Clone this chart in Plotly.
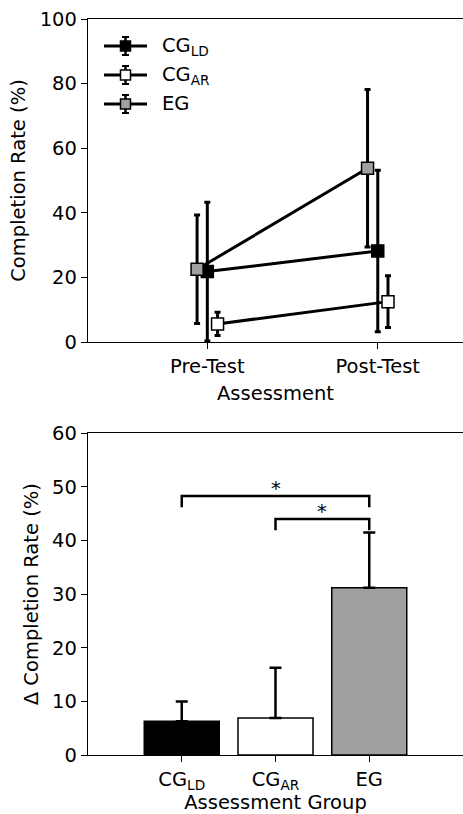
import plotly.graph_objects as go

# ---------------- data ----------------
assessments = ["Pre-Test", "Post-Test"]
groups = ["CG<sub>LD</sub>", "CG<sub>AR</sub>", "EG"]
group_colors = ["black", "white", "#a0a0a0"]
mean_pre = [21.8, 5.6, 22.5]
mean_post = [28.2, 12.5, 53.8]
sd_pre = [21.5, 3.6, 16.8]
sd_post = [25.0, 8.0, 24.4]
delta_mean = [6.3, 6.9, 31.2]
delta_err = [3.7, 9.35, 10.3]
sig_pairs = [(0, 2), (1, 2)]
sig_heights = [48.3, 44.0]
sig_labels = ["*", "*"]

# ---------------- style ----------------
FONT = "DejaVu Sans"
FS = 19.5
W, H = 463, 814
ML, MR, MT, MB = 88, 0, 19, 59
dodge = [0.0, 0.06, -0.06]
bracket_drop = 2.1

fig = go.Figure()

# top panel: line plot with error bars
for i, g in enumerate(groups):
    xs = [k + dodge[i] for k in range(len(assessments))]
    fig.add_trace(go.Scatter(
        x=xs, y=[mean_pre[i], mean_post[i]],
        mode="lines+markers", name=g, showlegend=False,
        line=dict(color="black", width=3),
        marker=dict(symbol="square", size=12, color=group_colors[i],
                    line=dict(color="black", width=1.5)),
        error_y=dict(type="data", array=[sd_pre[i], sd_post[i]],
                     color="black", thickness=3, width=3),
        xaxis="x", yaxis="y", cliponaxis=False,
    ))

# bottom panel: bars
fig.add_trace(go.Bar(
    x=list(range(len(groups))), y=delta_mean, width=0.8,
    marker=dict(color=group_colors, line=dict(color="black", width=1.5)),
    error_y=dict(type="data", symmetric=False, array=delta_err,
                 arrayminus=[0] * len(groups), color="black",
                 thickness=2.5, width=6),
    showlegend=False, xaxis="x2", yaxis="y2",
))

# significance brackets
for (a, b), h, lab in zip(sig_pairs, sig_heights, sig_labels):
    fig.add_trace(go.Scatter(
        x=[a, a, b, b], y=[h - bracket_drop, h, h, h - bracket_drop],
        mode="lines", line=dict(color="black", width=2.5),
        showlegend=False, xaxis="x2", yaxis="y2", hoverinfo="skip",
    ))
    fig.add_annotation(x=(a + b) / 2, y=h, xref="x2", yref="y2", text=lab,
                       showarrow=False, yanchor="bottom", yshift=-6,
                       font=dict(family=FONT, size=FS, color="black"))

# manual legend (paper coordinates)
pw = W - ML - MR
ph = H - MT - MB


def px(x):
    return (x - ML) / pw


def py(y):
    return (H - MB - y) / ph


for i, g in enumerate(groups):
    yc = 46 + 29 * i
    fig.add_shape(type="line", xref="paper", yref="paper",
                  x0=px(104), x1=px(147), y0=py(yc), y1=py(yc),
                  line=dict(color="black", width=3))
    fig.add_shape(type="line", xref="paper", yref="paper",
                  x0=px(125.5), x1=px(125.5), y0=py(yc - 9), y1=py(yc + 9),
                  line=dict(color="black", width=2.5))
    for dy in (-9, 9):
        fig.add_shape(type="line", xref="paper", yref="paper",
                      x0=px(122), x1=px(129), y0=py(yc + dy), y1=py(yc + dy),
                      line=dict(color="black", width=2))
    fig.add_shape(type="rect", xref="paper", yref="paper",
                  x0=px(120.5), x1=px(130.5), y0=py(yc - 5), y1=py(yc + 5),
                  fillcolor=group_colors[i], line=dict(color="black", width=1.5))
    fig.add_annotation(x=px(160), y=py(yc), xref="paper", yref="paper",
                       text=g, showarrow=False, xanchor="left", yanchor="middle",
                       font=dict(family=FONT, size=FS, color="black"))

axis_common = dict(showline=True, linecolor="black", linewidth=1.3, mirror=True,
                   ticks="outside", ticklen=6, tickwidth=1.3, tickcolor="black",
                   showgrid=False, zeroline=False,
                   tickfont=dict(family=FONT, size=FS, color="black"))

top_bottom = (H - MB - 342) / ph
bot_top = (H - MB - 433.3) / ph

fig.update_layout(
    width=W, height=H,
    margin=dict(l=ML, r=MR, t=MT, b=MB),
    paper_bgcolor="white", plot_bgcolor="white",
    font=dict(family=FONT, size=FS, color="black"),
    xaxis=dict(domain=[0, 1], anchor="y", range=[-0.7, 1.5],
               tickvals=list(range(len(assessments))), ticktext=assessments,
               title=dict(text="Assessment", standoff=9,
                          font=dict(family=FONT, size=FS)),
               **axis_common),
    yaxis=dict(domain=[top_bottom, 1], anchor="x", range=[0, 100],
               tickvals=[0, 20, 40, 60, 80, 100],
               title=dict(text="Completion Rate (%)", standoff=8,
                          font=dict(family=FONT, size=FS)),
               **axis_common),
    xaxis2=dict(domain=[0, 1], anchor="y2", range=[-1, 3],
                tickvals=list(range(len(groups))), ticktext=groups,
                title=dict(text="Assessment Group", standoff=9,
                           font=dict(family=FONT, size=FS)),
                **axis_common),
    yaxis2=dict(domain=[0, bot_top], anchor="x2", range=[0, 60],
                tickvals=[0, 10, 20, 30, 40, 50, 60],
                title=dict(text="Δ Completion Rate (%)", standoff=8,
                           font=dict(family=FONT, size=FS)),
                **axis_common),
)

fig.write_html("out.html", config={"displayModeBar": False},
               post_script="document.body.style.margin='0';")
